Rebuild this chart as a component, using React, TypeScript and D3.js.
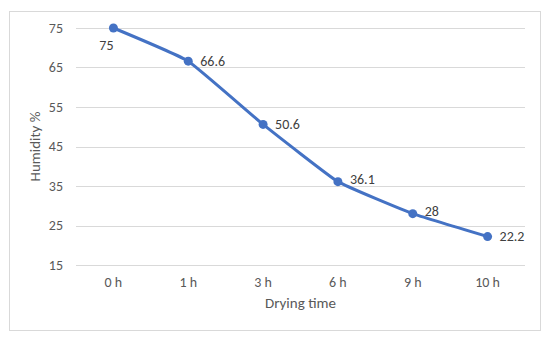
import React, { useEffect, useRef } from 'react';
import * as d3 from 'd3';

const categories = ['0 h', '1 h', '3 h', '6 h', '9 h', '10 h'];
const humidity = [75, 66.6, 50.6, 36.1, 28, 22.2];
const yTicks = [15, 25, 35, 45, 55, 65, 75];
const labelPlacement = ['below', 'right', 'right', 'upright', 'upright', 'right'];

export default function App() {
  const svgRef = useRef<SVGSVGElement>(null);
  const width = 550;
  const height = 340;

  useEffect(() => {
    const svg = d3.select(svgRef.current);
    svg.selectAll('*').remove();

    const font = 'Carlito, Calibri, "Open Sans", sans-serif';
    const margin = { top: 28, right: 25, bottom: 75, left: 76 };
    const innerWidth = width - margin.left - margin.right;
    const innerHeight = 265 - margin.top;

    // chart border
    svg.append('rect')
      .attr('x', 9.5)
      .attr('y', 11.5)
      .attr('width', 531)
      .attr('height', 319)
      .style('fill', '#fff')
      .style('stroke', '#d9d9d9')
      .style('stroke-width', 1);

    const g = svg.append('g')
      .attr('transform', `translate(${margin.left},${margin.top})`);

    const xScale = d3.scaleBand()
      .domain(categories)
      .range([0, innerWidth]);

    const yScale = d3.scaleLinear()
      .domain([15, 75])
      .range([innerHeight, 0]);

    // Grid lines
    g.selectAll('.grid')
      .data(yTicks)
      .enter()
      .append('line')
      .attr('x1', 0)
      .attr('x2', innerWidth)
      .attr('y1', d => Math.round(yScale(d)) + 0.5)
      .attr('y2', d => Math.round(yScale(d)) + 0.5)
      .style('stroke', '#d9d9d9')
      .style('stroke-width', 1);

    // Y tick labels
    g.selectAll('.ylab')
      .data(yTicks)
      .enter()
      .append('text')
      .attr('x', -13)
      .attr('y', d => yScale(d))
      .attr('dy', '0.35em')
      .attr('text-anchor', 'end')
      .style('font-family', font)
      .style('font-size', '14px')
      .style('fill', '#595959')
      .text(d => d);

    // X tick labels
    g.selectAll('.xlab')
      .data(categories)
      .enter()
      .append('text')
      .attr('x', d => (xScale(d) || 0) + xScale.bandwidth() / 2)
      .attr('y', innerHeight + 17)
      .attr('dy', '0.35em')
      .attr('text-anchor', 'middle')
      .style('font-family', font)
      .style('font-size', '14px')
      .style('fill', '#595959')
      .text(d => d);

    // Axis titles
    g.append('text')
      .attr('x', innerWidth / 2)
      .attr('y', innerHeight + 38)
      .attr('dy', '0.35em')
      .attr('text-anchor', 'middle')
      .style('font-family', font)
      .style('font-size', '15px')
      .style('fill', '#595959')
      .text('Drying time');

    g.append('text')
      .attr('transform', `translate(${-41},${innerHeight / 2}) rotate(-90)`)
      .attr('dy', '0.35em')
      .attr('text-anchor', 'middle')
      .style('font-family', font)
      .style('font-size', '15px')
      .style('fill', '#595959')
      .text('Humidity %');

    const points = categories.map((c, i) => ({
      x: (xScale(c) || 0) + xScale.bandwidth() / 2,
      y: yScale(humidity[i]),
      v: humidity[i],
      place: labelPlacement[i],
    }));

    const line = d3.line<typeof points[0]>()
      .x(d => d.x)
      .y(d => d.y)
      .curve(d3.curveCardinal.tension(0.65));

    g.append('path')
      .datum(points)
      .attr('d', line)
      .style('fill', 'none')
      .style('stroke', '#4472c4')
      .style('stroke-width', 3)
      .style('stroke-linejoin', 'round');

    g.selectAll('.dot')
      .data(points)
      .enter()
      .append('circle')
      .attr('cx', d => d.x)
      .attr('cy', d => d.y)
      .attr('r', 4.5)
      .style('fill', '#4472c4');

    // Data labels
    g.selectAll('.dlab')
      .data(points)
      .enter()
      .append('text')
      .attr('x', d => (d.place === 'below' ? d.x - 7 : d.x + 12))
      .attr('y', d => (d.place === 'below' ? d.y + 17 : d.place === 'upright' ? d.y - 3 : d.y))
      .attr('dy', '0.35em')
      .attr('text-anchor', d => (d.place === 'below' ? 'middle' : 'start'))
      .style('font-family', font)
      .style('font-size', '14px')
      .style('fill', '#404040')
      .text(d => d.v);
  }, []);

  return (
    <div>
      <svg ref={svgRef} width={width} height={height} style={{ display: 'block', margin: '-8px' }} />
    </div>
  );
}
